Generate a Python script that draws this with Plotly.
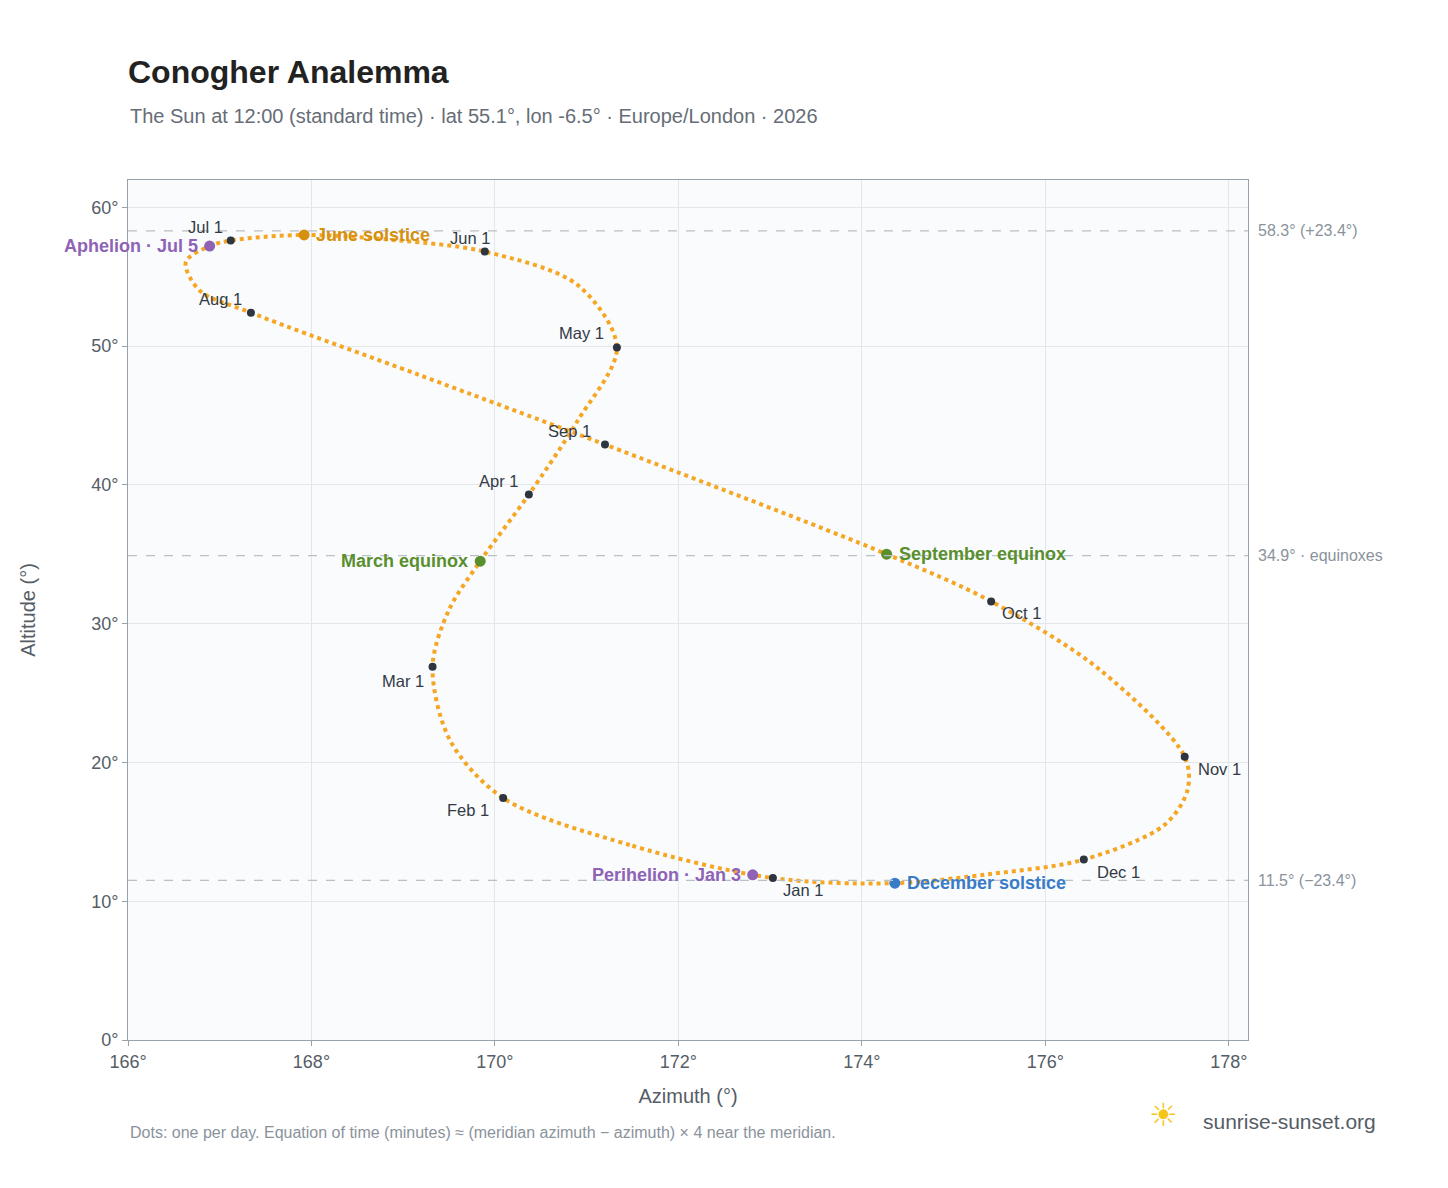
import plotly.graph_objects as go

# analemma path (roughly twice monthly)
path_az = [173.03,171.47,170.09,169.51,169.32,169.5,169.84,170.37,170.9,171.33,170.9,169.89,168.96,167.92,167.12,166.89,166.63,166.78,167.34,169.18,171.2,174.27,175.41,176.59,177.52,177.55,177.3,176.42,175.4,174.36,173.03]
path_alt = [11.67,14.05,17.43,21.6,26.9,31.0,34.5,39.3,44.6,49.9,54.4,56.8,57.6,58.0,57.6,57.2,56.05,54.0,52.4,47.9,42.9,35.0,31.6,26.7,20.4,18.0,15.5,13.0,11.96,11.3,11.67]

months = ["Jan 1","Feb 1","Mar 1","Apr 1","May 1","Jun 1","Jul 1","Aug 1","Sep 1","Oct 1","Nov 1","Dec 1"]
month_az = [173.03,170.09,169.32,170.37,171.33,169.89,167.12,167.34,171.2,175.41,177.52,176.42]
month_alt = [11.67,17.43,26.9,39.3,49.9,56.8,57.6,52.4,42.9,31.6,20.4,13.0]
month_dx = [30,-35,-30,-30,-35,-15,-25,-30,-35,30,35,35]
month_dy = [-12,-12,-14,14,14,14,14,14,14,-12,-12,-12]

events = ["March equinox","June solstice","September equinox","December solstice","Aphelion · Jul 5","Perihelion · Jan 3"]
event_az = [169.84,167.92,174.27,174.36,166.89,172.81]
event_alt = [34.5,58.0,35.0,11.3,57.2,11.9]
event_col = ["#5a8f2e","#d4900e","#5a8f2e","#3a7bc8","#8e63b5","#8e63b5"]
event_anchor = ["right","left","left","left","right","right"]

ref_alt = [58.3,34.9,11.5]
ref_lab = ["58.3° (+23.4°)","34.9° · equinoxes","11.5° (−23.4°)"]

fig = go.Figure()
for a in ref_alt:
    fig.add_hline(y=a, line=dict(color="#b8c0c8", width=1.3, dash="dash"))
fig.add_trace(go.Scatter(x=path_az, y=path_alt, mode="lines",
    line=dict(color="#f5a623", width=4, dash="dot", shape="spline", smoothing=0.9), hoverinfo="skip"))
fig.add_trace(go.Scatter(x=month_az, y=month_alt, mode="markers",
    marker=dict(color="#2d3540", size=8)))
fig.add_trace(go.Scatter(x=event_az, y=event_alt, mode="markers",
    marker=dict(color=event_col, size=11)))

for m, x, y, dx, dy in zip(months, month_az, month_alt, month_dx, month_dy):
    fig.add_annotation(x=x, y=y, text=m, showarrow=False, xshift=dx, yshift=dy,
                       font=dict(size=16.5, color="#333a44"))
for t, x, y, c, an in zip(events, event_az, event_alt, event_col, event_anchor):
    fig.add_annotation(x=x, y=y, text="<b>"+t+"</b>", showarrow=False, xanchor=an,
                       xshift=(10 if an == "left" else -10), font=dict(size=18, color=c))
for a, t in zip(ref_alt, ref_lab):
    fig.add_annotation(x=1, xref="paper", y=a, text=t, showarrow=False, xanchor="left",
                       xshift=8, font=dict(size=16, color="#8a939c"))

fig.update_layout(
    width=1432, height=1172, margin=dict(l=120, r=192, t=172, b=140),
    paper_bgcolor="white", plot_bgcolor="#f9fbfd", showlegend=False,
    font=dict(family="Liberation Sans, Arial", color="#555d66"),
    title=dict(text="<b>Conogher Analemma</b>", x=120/1432, xanchor="left", y=1-64/1172, yanchor="middle",
               font=dict(size=32, color="#222")),
    xaxis=dict(range=[166, 178.21], dtick=2, ticksuffix="°", title=dict(text="Azimuth (°)", font=dict(size=20), standoff=18),
               gridcolor="#e3e7eb", showline=True, linecolor="#98a2ae", mirror=True, zeroline=False,
               tickfont=dict(size=18), ticks="outside", tickcolor="#98a2ae"),
    yaxis=dict(range=[0, 61.96], dtick=10, ticksuffix="°", title=dict(text="Altitude (°)", font=dict(size=20), standoff=50),
               gridcolor="#e3e7eb", showline=True, linecolor="#98a2ae", mirror=True, zeroline=False,
               tickfont=dict(size=18), ticks="outside", tickcolor="#98a2ae"),
)
fig.add_annotation(x=0, xref="paper", xanchor="left", y=1, yref="paper", yshift=77, showarrow=False,
    text="The Sun at 12:00 (standard time) · lat 55.1°, lon -6.5° · Europe/London · 2026",
    font=dict(size=20, color="#666d76"))
fig.add_annotation(x=0, xref="paper", xanchor="left", y=0, yref="paper", yshift=-103, showarrow=False,
    text="Dots: one per day. Equation of time (minutes) ≈ (meridian azimuth − azimuth) × 4 near the meridian.",
    font=dict(size=16, color="#8a939c"))
fig.add_annotation(x=1, xref="paper", xanchor="right", y=0, yref="paper", yshift=-95, xshift=130, showarrow=False,
    text="sunrise-sunset.org", font=dict(size=21, color="#555d66"))
fig.add_annotation(x=1, xref="paper", xanchor="right", y=0, yref="paper", yshift=-95, xshift=-68, showarrow=False,
    text="☀", font=dict(size=32, color="#f5c518"))
fig.write_html("out.html")
